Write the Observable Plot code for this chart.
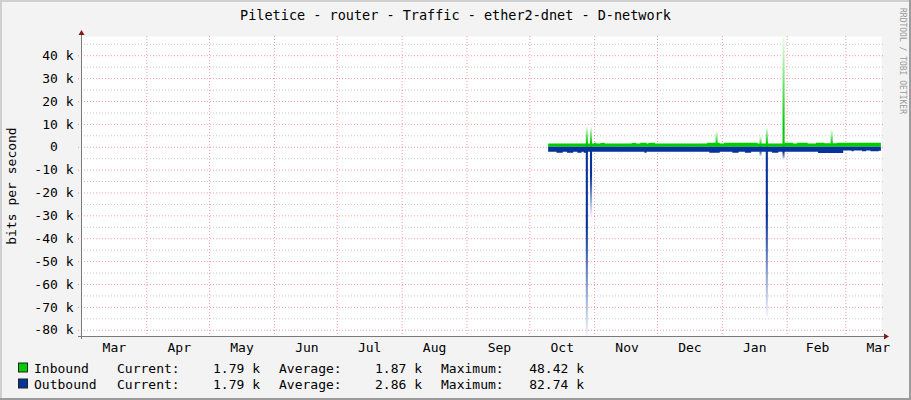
<!DOCTYPE html>
<html>
<head>
<meta charset="utf-8">
<script src="https://cdn.jsdelivr.net/npm/d3@7"></script>
<script src="https://cdn.jsdelivr.net/npm/@observablehq/plot@0.6"></script>
<style>
  html, body { margin: 0; padding: 0; background: #f3f3f3; }
  svg { display: block; }
</style>
</head>
<body>
<div id="chart"></div>
<script>
// ---------- text ----------
const title = "Piletice - router - Traffic - ether2-dnet - D-network";
const yLabel = "bits per second";
const watermark = "RRDTOOL / TOBI OETIKER";

// ---------- legend ----------
const seriesNames = ["Inbound", "Outbound"];
const seriesColors = ["#00cc00", "#05339b"];
const legendCurrent = ["1.79 k", "1.79 k"];
const legendAverage = ["1.87 k", "2.86 k"];
const legendMaximum = ["48.42 k", "82.74 k"];

// ---------- axes ----------
const xDomain = [new Date("2022-02-28T19:24:00Z"), new Date("2023-03-18T01:15:00Z")];
const yDomain = [-82740, 48420];
const monthStarts = ["2022-04-01","2022-05-01","2022-06-01","2022-07-01","2022-08-01","2022-09-01",
  "2022-10-01","2022-11-01","2022-12-01","2023-01-01","2023-02-01","2023-03-01"];
const monthLabelDates = ["2022-03-16","2022-04-16","2022-05-16","2022-06-16","2022-07-16","2022-08-16",
  "2022-09-16","2022-10-16","2022-11-16","2022-12-16","2023-01-16","2023-02-15","2023-03-16"];
const yMajor = [-80000,-70000,-60000,-50000,-40000,-30000,-20000,-10000,0,10000,20000,30000,40000];
const yMinor = [-75000,-65000,-55000,-45000,-35000,-25000,-15000,-5000,5000,15000,25000,35000,45000];

// ---------- data: daily values in k bits/s, first day 2022-10-10 ----------
const firstDay = "2022-10-10";
const inOct = [1.4,1.4,1.4,1.4,1.4,1.4,1.4,1.4,1.4,1.4,1.4,1.4,1.4,1.4,1.4,1.4,1.4,1.4,8.9,1.4,8.7,1.4];
const inNov = [1.8,1.4,1.4,1.6,1.8,1.4,1.4,1.4,1.4,1.4,1.4,1.4,1.4,1.4,1.4,1.4,1.4,1.4,1.6,1.8,
  1.4,1.4,1.8,1.8,1.8,1.4,1.6,1.8,1.8,1.4];
const inDec = [1.4,1.4,1.4,1.4,1.4,1.4,1.4,1.4,1.4,1.4,1.4,1.4,1.4,1.4,1.4,1.4,1.4,1.4,1.4,1.4,
  1.4,1.4,1.4,1.4,1.8,1.8,1.8,1.8,6.7,1.8,1.4];
const inJan = [1.4,1.8,1.8,1.7,1.7,1.8,1.7,1.7,1.7,1.8,1.7,1.7,1.7,1.8,1.7,1.7,1.7,1.4,4.5,1.4,
  1.4,8.4,1.4,1.4,1.4,1.4,1.4,1.4,1.4,48.42,1.8];
const inFeb = [1.8,1.8,1.8,1.4,1.4,1.8,1.8,1.8,1.8,1.8,1.4,1.4,1.4,1.4,1.8,1.8,1.8,1.8,1.5,1.5,
  1.5,7.4,1.5,1.5,1.8,1.8,1.8,1.8];
const inMar = [1.8,1.8,1.8,1.8,1.8,1.8,1.8,1.8,1.8,1.8,1.8,1.8,1.8,1.8,1.8,1.8,1.79];

const outOct = [2.2,2.2,2.2,2.2,2.6,2.6,2.6,2.2,2.2,2.6,2.6,2.6,2.2,2.2,2.6,2.6,2.2,2.6,82.74,2.2,30,2.2];
const outNov = [2.2,2.2,2.2,2.2,2.2,2.2,2.2,2.2,2.2,2.2,2.2,2.2,2.2,2.2,2.2,2.2,2.2,2.2,2.2,2.2,
  2.2,2.2,2.2,2.2,2.6,2.2,2.2,2.2,2.2,2.2];
const outDec = [2.2,2.2,2.2,2.2,2.2,2.2,2.2,2.2,2.2,2.2,2.2,2.2,2.2,2.2,2.2,2.2,2.2,2.2,2.2,2.2,
  2.2,2.2,2.2,2.2,2.2,2.6,2.6,2.6,2.6,2.6,2.2];
const outJan = [2.2,2.2,2.2,2.2,2.2,2.6,2.6,2.6,2.2,2.2,2.2,2.6,2.6,2.6,2.2,2.2,2.2,2.2,4.2,2.2,
  2.2,74,2.2,2.2,2.6,2.6,2.6,2.2,2.2,5.7,2.2];
const outFeb = [2.2,2.2,2.2,2.2,2.2,2.2,2.2,2.2,2.2,2.2,2.2,2.2,2.2,2.2,2.2,2.7,2.7,2.7,2.7,2.7,
  2.7,2.7,2.7,2.7,2.7,2.7,2.7,1.6];
const outMar = [1.6,1.6,1.6,2.0,1.6,1.6,1.6,1.6,2.0,2.0,1.6,1.6,2.0,2.0,2.0,2.0,1.8];

// ---------- table built from the arrays ----------
const DAY = 864e5;
const inbound = [...inOct, ...inNov, ...inDec, ...inJan, ...inFeb, ...inMar];
const outbound = [...outOct, ...outNov, ...outDec, ...outJan, ...outFeb, ...outMar];
const t0 = new Date(firstDay + "T00:00:00Z").getTime();
const days = inbound.map((v, i) => ({
  date: new Date(t0 + i * DAY),
  next: new Date(t0 + (i + 1) * DAY),
  inb: v * 1000,
  out: outbound[i] * 1000
}));
const spikeLevel = 3000;
// band (solid) part: on spike days keep the previous day's level
const band = [];
days.forEach((d, i) => {
  const prev = band.length ? band[band.length - 1] : {inb: d.inb, out: d.out};
  band.push({
    date: d.date,
    inb: d.inb > spikeLevel ? prev.inb : d.inb,
    out: d.out > spikeLevel ? prev.out : d.out
  });
});
band.push({date: days[days.length - 1].next, inb: band[band.length - 1].inb, out: band[band.length - 1].out});
const spikesIn = days.filter(d => d.inb > spikeLevel);
const spikesOut = days.filter(d => d.out > spikeLevel);

const fmtY = d => d === 0 ? "0\u00a0\u00a0" : `${d / 1000} k`;
const gridRed = "rgba(235,0,0,0.38)";
const gridGray = "#c8c8c8";

const W = 911, H = 400, ML = 81, MR = 30, MT = 36, MB = 64;

const svg = Plot.plot({
  width: W,
  height: H,
  marginLeft: ML,
  marginRight: MR,
  marginTop: MT,
  marginBottom: MB,
  style: {background: "#f3f3f3", fontFamily: "'DejaVu Sans Mono', monospace", fontSize: "13px", color: "#000"},
  x: {type: "utc", domain: xDomain, ticks: monthLabelDates.map(s => new Date(s + "T12:00:00Z")),
      tickFormat: d3.utcFormat("%b"), tickSize: 0, tickPadding: 6, label: null},
  y: {domain: yDomain, ticks: yMajor, tickFormat: fmtY, tickSize: 0, tickPadding: 8, label: null},
  marks: [
    Plot.frame({fill: "white", stroke: "none"}),
    Plot.ruleY(yMinor, {stroke: gridGray, strokeDasharray: "1,2", insetRight: -3}),
    Plot.ruleY(yMajor, {stroke: gridRed, strokeDasharray: "1,2", insetLeft: -3, insetRight: -3}),
    Plot.ruleX(monthStarts.map(s => new Date(s + "T00:00:00Z")), {stroke: gridRed, strokeDasharray: "1,2", insetBottom: -3}),
    Plot.areaY(band, {x: "date", y: "inb", curve: "step-after", fill: seriesColors[0]}),
    Plot.areaY(band, {x: "date", y: d => -d.out, curve: "step-after", fill: seriesColors[1]}),
    Plot.rect(spikesIn, {x1: "date", x2: "next", y1: 0, y2: "inb", fill: "url(#gradIn)"}),
    Plot.rect(spikesOut, {x1: "date", x2: "next", y1: 0, y2: d => -d.out, fill: "url(#gradOut)"}),
    Plot.ruleX([xDomain[0]], {stroke: "#7a7a7a", insetTop: -5, insetBottom: -3}),
    Plot.ruleY([yDomain[0]], {stroke: "#7a7a7a", insetLeft: -3, insetRight: -3})
  ]
});

const s = d3.select(svg);
const defs = s.insert("defs", ":first-child");
const gIn = defs.append("linearGradient").attr("id", "gradIn").attr("x1", 0).attr("y1", 0).attr("x2", 0).attr("y2", 1);
gIn.append("stop").attr("offset", 0).attr("stop-color", "#f4fdf4");
gIn.append("stop").attr("offset", 0.8).attr("stop-color", seriesColors[0]);
gIn.append("stop").attr("offset", 1).attr("stop-color", seriesColors[0]);
const gOut = defs.append("linearGradient").attr("id", "gradOut").attr("x1", 0).attr("y1", 0).attr("x2", 0).attr("y2", 1);
gOut.append("stop").attr("offset", 0).attr("stop-color", seriesColors[1]);
gOut.append("stop").attr("offset", 0.42).attr("stop-color", seriesColors[1]);
gOut.append("stop").attr("offset", 1).attr("stop-color", "#f2f4fa");

const font = "'DejaVu Sans Mono', monospace";
// frame bevel
s.append("rect").attr("x", 0).attr("y", 0).attr("width", W).attr("height", 2).attr("fill", "#cfcfcf");
s.append("rect").attr("x", 0).attr("y", 0).attr("width", 2).attr("height", H).attr("fill", "#cfcfcf");
s.append("rect").attr("x", W - 2).attr("y", 0).attr("width", 2).attr("height", H).attr("fill", "#9c9c9c");
s.append("rect").attr("x", 0).attr("y", H - 2).attr("width", W).attr("height", 2).attr("fill", "#9c9c9c");

// axis arrows
const axisX = ML + 0.5, axisY = H - MB + 0.5;
s.append("path").attr("d", `M${axisX - 3},${MT - 1}L${axisX + 3},${MT - 1}L${axisX},${MT - 6}Z`).attr("fill", "#7f1d1d");
s.append("path").attr("d", `M${W - MR + 3},${axisY - 3}L${W - MR + 3},${axisY + 3}L${W - MR + 8},${axisY}Z`).attr("fill", "#7f1d1d");

// title
s.append("text").attr("x", W / 2).attr("y", 19.5).attr("text-anchor", "middle")
  .attr("font-family", font).attr("font-size", "13.5px").attr("fill", "#000").text(title);
// y axis label
s.append("text").attr("transform", `translate(15.5,${(MT + H - MB) / 2}) rotate(-90)`).attr("text-anchor", "middle")
  .attr("font-family", font).attr("font-size", "13px").attr("fill", "#000").text(yLabel);
// watermark
s.append("text").attr("transform", `translate(900,8) rotate(90)`).attr("text-anchor", "start")
  .attr("font-family", font).attr("font-size", "8px").attr("fill", "#9a9a9a").text(watermark);

// legend
seriesNames.forEach((name, i) => {
  const base = 372.5 + i * 16;
  s.append("rect").attr("x", 18.5).attr("y", base - 9.5).attr("width", 9).attr("height", 9)
    .attr("fill", seriesColors[i]).attr("stroke", "#222").attr("stroke-width", 1);
  const t = (x, anchor, str) => s.append("text").attr("x", x).attr("y", base).attr("text-anchor", anchor)
    .attr("font-family", font).attr("font-size", "13px").attr("fill", "#000").text(str);
  t(34, "start", name);
  t(117, "start", "Current:");
  t(260, "end", legendCurrent[i]);
  t(279, "start", "Average:");
  t(422, "end", legendAverage[i]);
  t(441, "start", "Maximum:");
  t(584, "end", legendMaximum[i]);
});

document.getElementById("chart").appendChild(svg);
</script>
</body>
</html>
